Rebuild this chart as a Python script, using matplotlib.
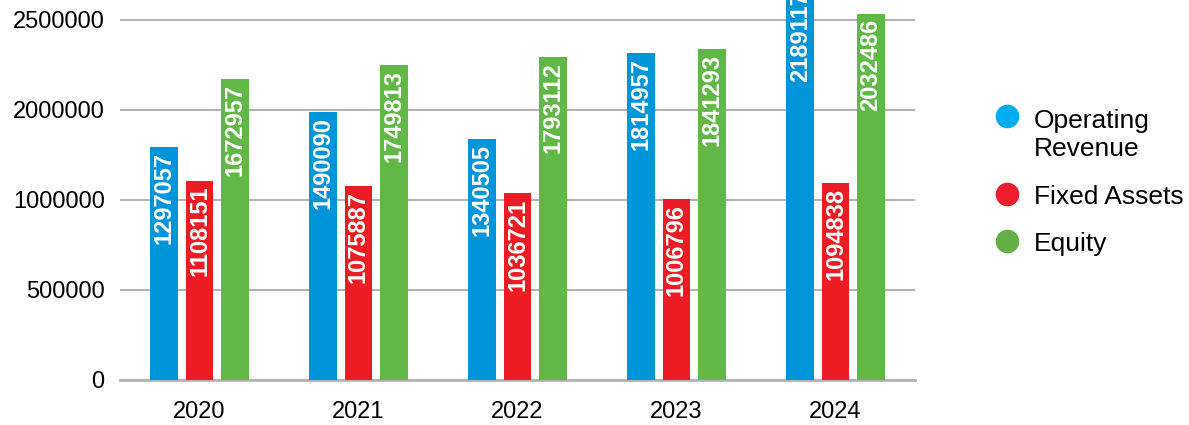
import matplotlib.pyplot as plt
from matplotlib.lines import Line2D
import numpy as np

plt.rcParams['font.family'] = ['Liberation Sans', 'DejaVu Sans']

years = ['2020', '2021', '2022', '2023', '2024']
operating_revenue = [1297057, 1490090, 1340505, 1814957, 2189117]
fixed_assets = [1108151, 1075887, 1036721, 1006796, 1094838]
equity = [1672957, 1749813, 1793112, 1841293, 2032486]
series_names = ['Operating\nRevenue', 'Fixed Assets', 'Equity']
ytick_values = [0, 500000, 1000000, 1500000, 2000000]
ytick_labels = ['0', '500000', '1000000', '2000000', '2500000']

bar_colors = ['#0095DA', '#ED1C24', '#62B846']
legend_colors = ['#00AEEF', '#ED1C2E', '#62B046']

fig = plt.figure(figsize=(11.89, 4.25), dpi=100)
ax = fig.add_axes([120 / 1189, 45 / 425, 795 / 1189, 380 / 425])

x = np.arange(len(years))
offsets = [-0.222, 0.0, 0.222]
width = 0.175

for vals, off, col in zip([operating_revenue, fixed_assets, equity], offsets, bar_colors):
    bars = ax.bar(x + off, vals, width=width, color=col, zorder=3)
    for b, v in zip(bars, vals):
        ax.annotate(str(v), xy=(b.get_x() + b.get_width() / 2, v),
                    xytext=(0, -5), textcoords='offset pixels',
                    rotation=90, ha='center', va='top', color='white',
                    fontsize=17, fontweight='bold', zorder=4, annotation_clip=False)

ax.set_xlim(-0.5, len(years) - 0.5)
ax.set_ylim(0, 380 / 180 * 1e6)
ax.set_xticks(x)
ax.set_xticklabels(years, fontsize=17)
ax.set_yticks(ytick_values)
ax.set_yticklabels(ytick_labels, fontsize=17)
ax.tick_params(axis='both', length=0)
ax.tick_params(axis='y', pad=11)
ax.tick_params(axis='x', pad=15)

ax.grid(axis='y', color='#A6A6A6', linewidth=1.2, zorder=0)
ax.grid(axis='x', visible=False)
for s in ['top', 'right', 'left']:
    ax.spines[s].set_visible(False)
ax.spines['bottom'].set_color('#B4B4B4')
ax.spines['bottom'].set_linewidth(2)
ax.spines['bottom'].set_zorder(2)

# legend drawn by hand so the circle sits on the first text line
# (va='baseline' puts the last text line on the given baseline)
leg_y = [116, 194, 241]
leg_base = [156, 204, 251]
for name, col, yy, yb in zip(series_names, legend_colors, leg_y, leg_base):
    fig.add_artist(Line2D([1007 / 1189], [1 - yy / 425], marker='o', markersize=16,
                          color=col, linestyle='none', transform=fig.transFigure))
    fig.text(1034 / 1189, 1 - yb / 425, name, fontsize=19, ha='left', va='baseline',
             linespacing=1.2)

fig.savefig('out.png', dpi=100)
